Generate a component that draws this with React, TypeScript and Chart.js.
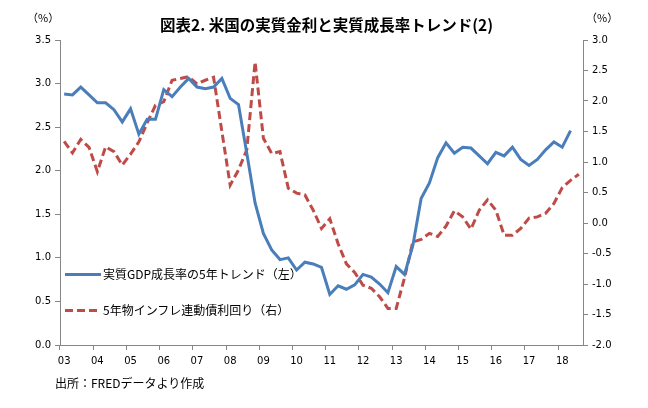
import { useEffect, useRef } from 'react';
import { Chart, ChartConfiguration, registerables } from 'chart.js';

Chart.register(...registerables);

// 2003Q1 .. 2018Q3, quarterly
const years = ['03', '04', '05', '06', '07', '08', '09', '10', '11', '12', '13', '14', '15', '16', '17', '18'];
const labels: string[] = [];
for (let i = 0; i < 63; i++) labels.push(i % 4 === 0 ? years[i / 4] : '');

// 実質GDP成長率の5年トレンド (left axis)
const gdpTrend = [
  2.88, 2.87, 2.96, 2.87, 2.78, 2.78, 2.70, 2.56, 2.71, 2.42,
  2.59, 2.59, 2.93, 2.85, 2.96, 3.06, 2.96, 2.94, 2.96, 3.06,
  2.83, 2.76, 2.20, 1.63, 1.28, 1.09, 0.98, 1.00, 0.86, 0.95,
  0.93, 0.89, 0.58, 0.68, 0.64, 0.69, 0.81, 0.78, 0.70, 0.60,
  0.90, 0.81, 1.14, 1.68, 1.86, 2.15, 2.32, 2.20, 2.27, 2.26,
  2.17, 2.08, 2.21, 2.17, 2.27, 2.13, 2.06, 2.13, 2.24, 2.33,
  2.27, 2.46,
];

// 5年物インフレ連動債利回り (right axis)
const tipsYield = [
  1.34, 1.15, 1.37, 1.24, 0.84, 1.25, 1.17, 0.95, 1.13, 1.33,
  1.64, 1.93, 1.99, 2.34, 2.37, 2.40, 2.28, 2.34, 2.39, 1.50,
  0.62, 0.87, 1.20, 2.64, 1.39, 1.14, 1.17, 0.57, 0.49, 0.46,
  0.21, -0.09, 0.07, -0.34, -0.67, -0.81, -1.02, -1.07, -1.21, -1.40,
  -1.40, -0.90, -0.31, -0.27, -0.17, -0.22, -0.05, 0.20, 0.10, -0.10,
  0.21, 0.38, 0.21, -0.20, -0.20, -0.09, 0.08, 0.10, 0.16, 0.32,
  0.58, 0.70, 0.80,
];

const leftTicks = [0, 0.5, 1, 1.5, 2, 2.5, 3, 3.5];
const rightTicks = [-2, -1.5, -1, -0.5, 0, 0.5, 1, 1.5, 2, 2.5, 3];

const BLUE = '#4A7EBB';
const RED = '#BE4B48';
const AXIS = '#868686';
const FONT = '"Noto Sans CJK JP", "DejaVu Sans", sans-serif';

export default function App() {
  const chartRef = useRef<HTMLCanvasElement>(null);
  const chartInstance = useRef<Chart | null>(null);

  useEffect(() => {
    if (!chartRef.current) return;
    const ctx = chartRef.current.getContext('2d');
    if (!ctx) return;
    if (chartInstance.current) chartInstance.current.destroy();

    const tickFont = { family: '"DejaVu Sans", sans-serif', size: 10 };

    const config: ChartConfiguration = {
      type: 'line',
      data: {
        labels,
        datasets: [
          {
            label: '実質GDP成長率の5年トレンド（左）',
            data: gdpTrend,
            yAxisID: 'y',
            borderColor: BLUE,
            borderWidth: 3,
            pointRadius: 0,
            tension: 0,
          },
          {
            label: '5年物インフレ連動債利回り（右）',
            data: tipsYield,
            yAxisID: 'y2',
            borderColor: RED,
            borderWidth: 3,
            borderDash: [8, 4],
            pointRadius: 0,
            tension: 0,
          },
        ],
      },
      options: {
        animation: false,
        responsive: false,
        maintainAspectRatio: false,
        layout: { padding: { top: 40, left: 0, right: 0, bottom: 0 } },
        plugins: { legend: { display: false }, tooltip: { enabled: false } },
        scales: {
          x: {
            offset: true,
            grid: {
              offset: true,
              drawOnChartArea: false,
              tickLength: 5,
              color: (c: any) => (c.index % 4 === 0 ? AXIS : 'rgba(0,0,0,0)'),
            },
            border: { color: AXIS },
            ticks: {
              autoSkip: false,
              maxRotation: 0,
              padding: 5,
              color: '#000',
              font: tickFont,
            },
            afterFit: (s: any) => { s.height = 63; },
          },
          y: {
            position: 'left',
            min: 0,
            max: 3.5,
            afterBuildTicks: (s: any) => { s.ticks = leftTicks.map((v) => ({ value: v })); },
            grid: { drawOnChartArea: false, tickLength: 5, color: AXIS },
            border: { color: AXIS },
            ticks: {
              padding: 4,
              color: '#000',
              font: tickFont,
              callback: (v: any) => Number(v).toFixed(1),
            },
            afterFit: (s: any) => { s.width = 60; },
          },
          y2: {
            position: 'right',
            min: -2,
            max: 3,
            afterBuildTicks: (s: any) => { s.ticks = rightTicks.map((v) => ({ value: v })); },
            grid: { drawOnChartArea: false, tickLength: 5, color: AXIS },
            border: { color: AXIS },
            ticks: {
              padding: 4,
              color: '#000',
              font: tickFont,
              callback: (v: any) => Number(v).toFixed(1),
            },
            afterFit: (s: any) => { s.width = 65; },
          },
        },
      },
    };

    chartInstance.current = new Chart(ctx, config);
    return () => {
      if (chartInstance.current) {
        chartInstance.current.destroy();
        chartInstance.current = null;
      }
    };
  }, []);

  const text: React.CSSProperties = {
    position: 'absolute',
    fontFamily: FONT,
    fontSize: 12,
    color: '#000',
    whiteSpace: 'nowrap',
    lineHeight: 1,
  };

  return (
    <div style={{ position: 'relative', width: 648, height: 408, margin: -8, background: '#fff', overflow: 'hidden' }}>
      <canvas ref={chartRef} width={648} height={408} style={{ position: 'absolute', left: 0, top: 0 }} />
      <div style={{ ...text, left: 160, top: 17, fontSize: 15.5, fontWeight: 'bold' }}>
        図表2. 米国の実質金利と実質成長率トレンド(2)
      </div>
      <div style={{ ...text, left: 27, top: 12, fontSize: 11 }}>（%）</div>
      <div style={{ ...text, left: 586, top: 12, fontSize: 11 }}>（%）</div>
      <div style={{ position: 'absolute', left: 65, top: 272.5, width: 36, height: 3, background: BLUE }} />
      <div style={{ ...text, left: 103, top: 268 }}>実質GDP成長率の5年トレンド（左）</div>
      <div
        style={{
          position: 'absolute', left: 65, top: 308.5, width: 36, height: 3,
          background: `repeating-linear-gradient(90deg, ${RED} 0 8px, transparent 8px 12px)`,
        }}
      />
      <div style={{ ...text, left: 103, top: 304 }}>5年物インフレ連動債利回り（右）</div>
      <div style={{ ...text, left: 55, top: 377 }}>出所：FREDデータより作成</div>
    </div>
  );
}
